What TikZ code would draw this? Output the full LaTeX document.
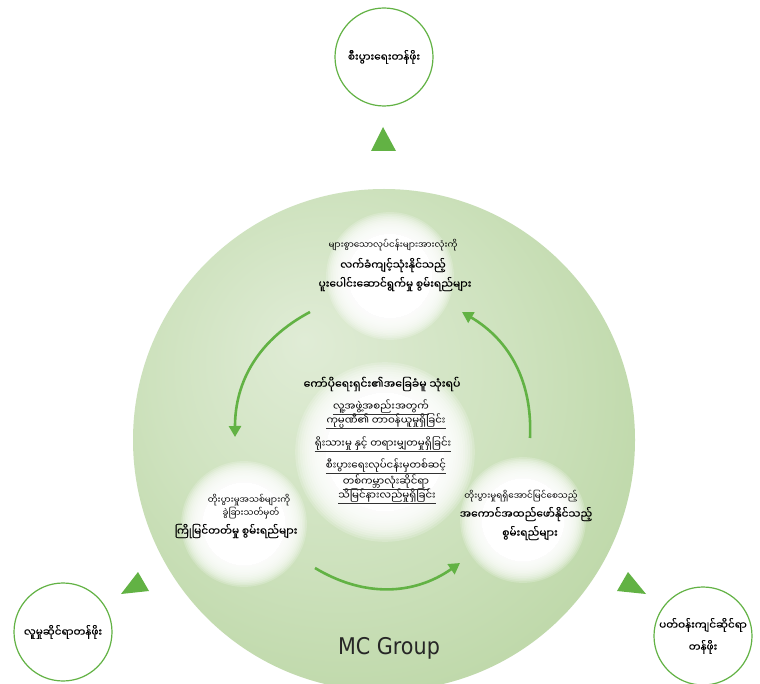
\documentclass[tikz,border=0pt]{standalone}
\usepackage{fontspec}
\usetikzlibrary{arrows.meta}
\newfontfamily\mm[Script=Myanmar]{Noto Sans Myanmar UI}
\newfontfamily\mmb[Script=Myanmar, FakeBold=0.4]{Noto Sans Myanmar UI}
\newfontfamily\mcfont{DejaVu Sans Condensed}
\definecolor{leaf}{RGB}{98,178,68}
\definecolor{bgA}{RGB}{224,236,214}
\definecolor{bgB}{RGB}{206,226,190}
\definecolor{bgC}{RGB}{182,211,158}
\definecolor{bgD}{RGB}{164,200,136}
\definecolor{bgE}{RGB}{188,214,168}
\pgfdeclareradialshading{bigshade}{\pgfpoint{-8bp}{10bp}}{color(0bp)=(bgA); color(18bp)=(bgB); color(38bp)=(bgC); color(46bp)=(bgD); color(50bp)=(bgE)}
\newcommand\softblob[3]{%
  \fill[white] (#1,#2) circle [radius={0.66*#3 pt}];
  \foreach \k in {0,...,13}
    \fill[white, opacity=0.2] (#1,#2) circle [radius={(0.66+0.026*\k)*#3 pt}];
}
\begin{document}
\begin{tikzpicture}[x=1pt,y=-1pt,
  outer/.style={circle, draw=leaf, line width=1.2pt, minimum size=98pt, inner sep=0pt, align=center, font=\mmb\fontsize{10.5}{22}\selectfont},
  smalltxt/.style={inner sep=0pt, font=\mm\fontsize{8.8}{10}\selectfont},
  bigtxt/.style={inner sep=0pt, font=\mmb\fontsize{10.6}{12}\selectfont},
  ultxt/.style={inner sep=0pt, font=\mm\fontsize{10.2}{11}\selectfont},
  ulline/.style={draw=black!80, line width=0.6pt},
  flow/.style={leaf, line width=2.6pt, -{Triangle[length=11pt,width=12pt]}}]
\useasboundingbox (0,0) rectangle (760,684);
\fill[white] (0,0) rectangle (760,684);
% big circle
\shade[shading=bigshade] (384,440) circle [radius=251pt];
% white blobs
\softblob{390}{276}{64}
\softblob{385}{452}{90}
\softblob{244}{524}{63}
\softblob{523}{520}{63}
% outer value circles
\node[outer] (econ) at (384,57) {စီးပွားရေးတန်ဖိုး};
\node[outer] (social) at (63,632) {လူမှုဆိုင်ရာတန်ဖိုး};
\node[outer] (env) at (703,636) {ပတ်ဝန်းကျင်ဆိုင်ရာ\\တန်ဖိုး};
% triangles
\fill[leaf] (383,127) -- (371,151) -- (396,151) -- cycle;
\fill[leaf] (138,572) -- (121,594) -- (149,591) -- cycle;
\fill[leaf] (628,572) -- (617,591) -- (646,594) -- cycle;
% arrows
\coordinate (a1s) at (310,312); \coordinate (a1e) at (235,437);
\coordinate (a2s) at (315,568); \coordinate (a2e) at (460,563);
\coordinate (a3s) at (530,438); \coordinate (a3e) at (462,312);
\draw[flow] (a1s) to[bend right=31] (a1e);
\draw[flow] (a2s) to[bend right=33] (a2e);
\draw[flow] (a3s) to[bend right=31] (a3e);
% top block
\node[smalltxt] (t1) at (393,245) {များစွာသောလုပ်ငန်းများအားလုံးကို};
\node[bigtxt] (t2) at (393,265) {လက်ခံကျင့်သုံးနိုင်သည့်};
\node[bigtxt] (t3) at (395,284) {ပူးပေါင်းဆောင်ရွက်မှု စွမ်းရည်များ};
% center block
\node[bigtxt, font=\mmb\fontsize{10.9}{12}\selectfont] (c0) at (382,384) {ကော်ပိုရေးရှင်း၏အခြေခံမူ သုံးရပ်};
\node[ultxt] (c1) at (381,407) {လူ့အဖွဲ့အစည်းအတွက်};
\node[ultxt] (c2) at (386,421) {ကုမ္ပဏီ၏ တာဝန်ယူမှုရှိခြင်း};
\node[ultxt] (c3) at (383,444) {ရိုးသားမှု နှင့် တရားမျှတမှုရှိခြင်း};
\node[ultxt] (c4) at (386,466) {စီးပွားရေးလုပ်ငန်းမှတစ်ဆင့်};
\node[ultxt] (c5) at (386,482) {တစ်ကမ္ဘာလုံးဆိုင်ရာ};
\node[ultxt] (c6) at (387,496) {သိမြင်နားလည်မှုရှိခြင်း};
\foreach \n in {c1,c2,c3,c4,c5,c6}
  \draw[ulline] ([yshift=-7.5pt]\n.west) -- ([yshift=-7.5pt]\n.east);
% left block
\node[smalltxt] (l1) at (249,500) {တိုးပွားမှုအသစ်များကို};
\node[smalltxt] (l2) at (251,513) {ခွဲခြားသတ်မှတ်};
\node[bigtxt] (l3) at (236,531) {ကြိုမြင်တတ်မှု စွမ်းရည်များ};
% right block
\node[smalltxt] (r1) at (521,496) {တိုးပွားမှုရရှိအောင်မြင်စေသည့်};
\node[bigtxt] (r2) at (526,514) {အကောင်အထည်ဖော်နိုင်သည့်};
\node[bigtxt] (r3) at (530,533) {စွမ်းရည်များ};
% label
\node[font=\mcfont\fontsize{23}{23}\selectfont, text=black!85, inner sep=0pt] (mc) at (389,648) {MC Group};
\end{tikzpicture}
\end{document}
